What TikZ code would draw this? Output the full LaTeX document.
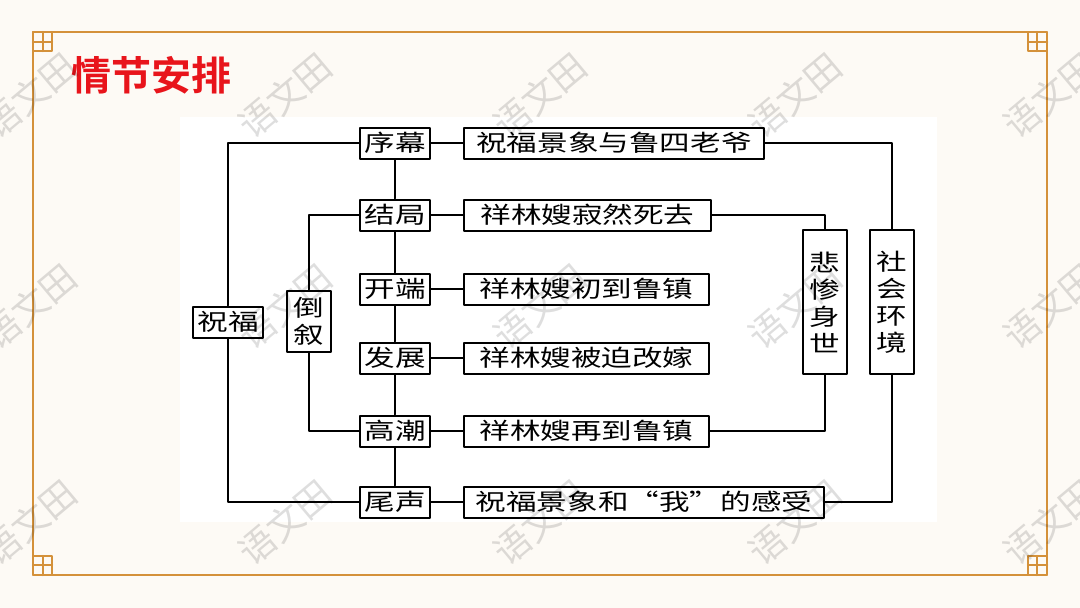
\documentclass[tikz,border=0pt]{standalone}
\usepackage{fontspec}
\newfontfamily\songfont[FakeStretch=1.33]{Noto Sans CJK SC}
\newfontfamily\titlefont{Noto Sans CJK SC Bold}
\newfontfamily\markfont{Noto Sans CJK SC}
\usepackage{xcolor}
\definecolor{pagebg}{HTML}{FDFAF5}
\definecolor{framegold}{HTML}{D4913A}
\definecolor{titlered}{HTML}{E8141B}
\usepackage{tikz}
\usetikzlibrary{positioning}
\tikzset{
  every picture/.style={line cap=round, line join=round},
  frame/.style={framegold, line width=2.5pt},
  link/.style={black, line width=2pt},
  boxtext/.style={font=\songfont\fontsize{23}{27}\selectfont},
  stagebox/.style={boxtext, draw, line width=2pt, fill=white, minimum width=70pt,
    minimum height=31pt, inner sep=0pt},
  plotbox/.style={boxtext, draw, line width=2pt, fill=white, minimum width=#1,
    minimum height=31pt, inner sep=0pt, anchor=west},
  vbox/.style={boxtext, draw, line width=2pt, fill=white, minimum width=44pt,
    minimum height=#1, inner sep=0pt, align=center},
  wmark/.style={font=\markfont\fontsize{36}{36}\selectfont, text=black, text opacity=0.13, rotate=40},
}

\begin{document}
\begin{tikzpicture}[x=1pt, y=-1pt]
\useasboundingbox (0,0) rectangle (1080,608);
\fill[pagebg] (0,0) rectangle (1080,608);
% frame with corner knots
\draw[frame] (33,32) rectangle (1047,575);
\foreach \cx/\cy/\sx/\sy in {33/32/1/1, 1047/32/-1/1, 33/575/1/-1, 1047/575/-1/-1} {
  \fill[pagebg] (\cx,\cy) rectangle ++(19*\sx,19*\sy);
  \draw[frame] (\cx,\cy) rectangle ++(19*\sx,19*\sy);
  \draw[frame] (\cx+10*\sx,\cy) -- ++(0,19*\sy) (\cx,\cy+10*\sy) -- ++(19*\sx,0);
}
\node[font=\titlefont\fontsize{40}{40}\selectfont, text=titlered, anchor=west, inner sep=0pt]
  (title) at (71,75) {情节安排};
% scanned panel
\fill[white] (180,117) rectangle (937,522);
% stages and plot boxes
\foreach \id/\stg/\y/\w/\txt in {xm/序幕/143/300/祝福景象与鲁四老爷, jj/结局/215/247/祥林嫂寂然死去,
    kd/开端/289/245/祥林嫂初到鲁镇, fz/发展/358/245/祥林嫂被迫改嫁,
    gc/高潮/431/245/祥林嫂再到鲁镇, ws/尾声/502/360/祝福景象和“我”的感受} {
  \node[stagebox] (\id) at (395,\y) {\stg};
  \node[plotbox=\w pt] (\id-p) at (463,\y) {\txt};
  \draw[link] (\id.east) -- (\id-p.west);
}
\draw[link] (xm) -- (jj) -- (kd) -- (fz) -- (gc) -- (ws);
\node[stagebox] (zf) at (228,322) {祝福};
\node[vbox=61pt] (dx) at (309,321) {倒\\叙};
\node[vbox=144pt] (bc) at (825,302) {悲\\惨\\身\\世};
\node[vbox=144pt] (sh) at (892,302) {社\\会\\环\\境};
\draw[link] (zf.north) |- (xm.west);
\draw[link] (zf.south) |- (ws.west);
\draw[link] (dx.north) |- (jj.west);
\draw[link] (dx.south) |- (gc.west);
\draw[link] (bc.north) |- (jj-p.east);
\draw[link] (bc.south) |- (gc-p.east);
\draw[link] (sh.north) |- (xm-p.east);
\draw[link] (sh.south) |- (ws-p.east);
% watermark
\foreach \x in {30,285,540,795,1050} \foreach \y in {95,306,522}
  \node[wmark] at (\x,\y) {语文田};
\end{tikzpicture}
\end{document}
